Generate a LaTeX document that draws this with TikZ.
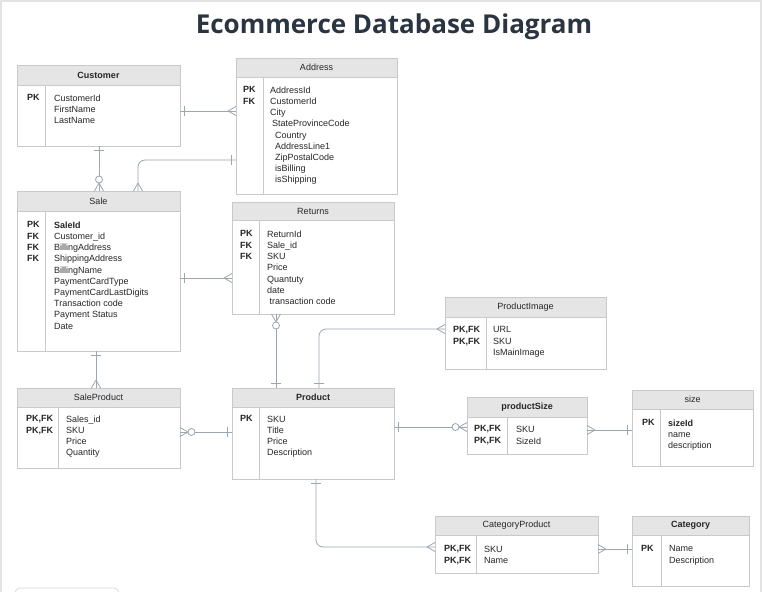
\documentclass[tikz,border=0pt]{standalone}
\usepackage{fontspec}
\setmainfont{Liberation Sans}
\newfontfamily\titlefont{Open Sans}
\usetikzlibrary{decorations.markings}
\definecolor{linec}{HTML}{9AA6B2}
\definecolor{boxc}{HTML}{C9C9C9}
\definecolor{headc}{HTML}{E5E5E5}
\definecolor{txtc}{HTML}{262626}
\definecolor{titlec}{HTML}{2B3441}
\definecolor{framec}{HTML}{E3E3E3}
\tikzset{
  ebox/.style={draw=boxc, line width=0.8pt, rectangle, inner sep=0pt, outer sep=0pt},
  htext/.style={text=txtc, inner sep=0pt},
  col/.style={font=\fontsize{9}{11.2}\selectfont, text=txtc, inner sep=0pt, align=left, anchor=north west},
  keycol/.style={col, font=\fontsize{9}{11.2}\selectfont\bfseries},
  conn/.style={draw=linec, line width=0.8pt},
  barS/.style={postaction={decorate, decoration={markings, mark=at position 4.5pt with {\draw[linec, line width=0.8pt] (0pt,-5pt) -- (0pt,5pt);}}}},
  barE/.style={postaction={decorate, decoration={markings, mark=at position -4.5pt with {\draw[linec, line width=0.8pt] (0pt,-5pt) -- (0pt,5pt);}}}},
  manyE/.style={postaction={decorate, decoration={markings, mark=at position 1 with {\draw[linec, line width=0.8pt] (-8pt,0pt) -- (0pt,4.5pt) (-8pt,0pt) -- (0pt,-4.5pt);}}}},
  manyS/.style={postaction={decorate, decoration={markings, mark=at position 0 with {\draw[linec, line width=0.8pt] (8pt,0pt) -- (0pt,4.5pt) (8pt,0pt) -- (0pt,-4.5pt);}}}},
  zeroE/.style={postaction={decorate, decoration={markings, mark=at position -11.5pt with {\draw[linec, fill=white, line width=0.8pt] (0pt,0pt) circle (3.5pt);}}}},
  zeroS/.style={postaction={decorate, decoration={markings, mark=at position 11.5pt with {\draw[linec, fill=white, line width=0.8pt] (0pt,0pt) circle (3.5pt);}}}},
}
% name, x, y, w, h, header height, divider offset, title, title font
\newcommand\entity[9]{%
  \fill[headc] (#2,#3) rectangle ++(#4,#6);
  \node[ebox, anchor=north west, minimum width=#4pt, minimum height=#5pt] (#1) at (#2,#3) {};
  \draw[boxc, line width=0.8pt] ([yshift=-#6pt]#1.north west) -- ([yshift=-#6pt]#1.north east);
  \draw[boxc, line width=0.8pt] ([xshift=#7pt,yshift=-#6pt]#1.north west) -- ([xshift=#7pt]#1.south west);
  \node[htext, font=\fontsize{9}{11}\selectfont#9] (#1-title) at ([yshift=-#6*0.5pt]#1.north) {#8};
}
\begin{document}
\begin{tikzpicture}[x=1pt, y=-1pt]
\useasboundingbox (0,0) rectangle (762,591);
\fill[white] (0,0) rectangle (762,591);
\draw[framec, line width=2pt] (1,600) -- (1,1) -- (760.5,1) -- (760.5,600);
\draw[boxc!70, line width=0.8pt, rounded corners=5pt] (15,600) |- (119,588) -- (119,600);

\node[font=\titlefont\bfseries\fontsize{26}{30}\selectfont, text=titlec, anchor=base, inner sep=0pt] (title) at (394,34) {Ecommerce Database Diagram};

% entities
\entity{customer}{17}{65}{163}{81}{20}{28}{Customer}{\bfseries}
\entity{address}{236}{58}{161}{136}{19}{27}{Address}{}
\entity{sale}{17}{191}{163}{160}{20}{28}{Sale}{}
\entity{returns}{232}{202}{162}{112}{18}{27}{Returns}{}
\entity{saleproduct}{17}{388}{163}{80}{19}{41}{SaleProduct}{}
\entity{product}{232}{388}{162}{91}{19}{27}{Product}{\bfseries}
\entity{productimage}{445}{297}{161}{72}{20}{41}{ProductImage}{}
\entity{productsize}{467}{397}{120}{57}{20}{40}{productSize}{\bfseries}
\entity{size}{632}{390}{121}{76}{19}{28}{size}{}
\entity{categoryproduct}{435}{516}{163}{57}{19}{41}{CategoryProduct}{}
\entity{category}{632}{516}{117}{70}{19}{29}{Category}{\bfseries}

% columns
\node[keycol] (customer-k) at (27,94.6) {PK};
\node[col] (customer-a) at (54,94.6) {CustomerId\\FirstName\\LastName};

\node[keycol] (address-k) at (243,86.6) {PK\\FK};
\node[col] (address-a) at (270,86.6) {AddressId\\CustomerId\\City\\\hspace{2pt}StateProvinceCode\\\hspace{5pt}Country\\\hspace{5pt}AddressLine1\\\hspace{5pt}ZipPostalCode\\\hspace{5pt}isBilling\\\hspace{5pt}isShipping};

\node[keycol] (sale-k) at (27,221.6) {PK\\FK\\FK\\FK};
\node[col] (sale-a) at (54,221.6) {\textbf{SaleId}\\Customer\_id\\BillingAddress\\ShippingAddress\\BillingName\\PaymentCardType\\PaymentCardLastDigits\\Transaction code\\Payment Status\\Date};

\node[keycol] (returns-k) at (240,230.6) {PK\\FK\\FK};
\node[col] (returns-a) at (267,230.6) {ReturnId\\Sale\_id\\SKU\\Price\\Quantuty\\date\\\hspace{2.5pt}transaction code};

\node[keycol] (saleproduct-k) at (26,415.6) {PK,FK\\PK,FK};
\node[col] (saleproduct-a) at (66,415.6) {Sales\_id\\SKU\\Price\\Quantity};

\node[keycol] (product-k) at (240,415.6) {PK};
\node[col] (product-a) at (267,415.6) {SKU\\Title\\Price\\Description};

\node[keycol] (productimage-k) at (453,326.6) {PK,FK\\PK,FK};
\node[col] (productimage-a) at (493,326.6) {URL\\SKU\\IsMainImage};

\node[keycol, font=\fontsize{9}{12}\selectfont\bfseries] (productsize-k) at (474,425.6) {PK,FK\\PK,FK};
\node[col, font=\fontsize{9}{12}\selectfont] (productsize-a) at (516,425.6) {SKU\\SizeId};

\node[keycol] (size-k) at (642,419.6) {PK};
\node[col] (size-a) at (668,419.6) {\textbf{sizeId}\\name\\description};

\node[keycol] (categoryproduct-k) at (444,545.6) {PK,FK\\PK,FK};
\node[col] (categoryproduct-a) at (484,545.6) {SKU\\Name};

\node[keycol] (category-k) at (641,545.6) {PK};
\node[col] (category-a) at (669,545.6) {Name\\Description};

% connectors
\draw[conn, barS, manyE] (customer.east |- 0,111) -- (address.west |- 0,111);
\draw[conn, barS, zeroE, manyE] (customer.south -| 99,0) -- (sale.north -| 99,0);
\draw[conn, barS, manyE, rounded corners=7pt] (address.west |- 0,160) -| (sale.north -| 138,0);
\draw[conn, barS, manyE] (sale.east |- 0,278) -- (returns.west |- 0,278);
\draw[conn, barS, manyE] (sale.south -| 96,0) -- (saleproduct.north -| 96,0);
\draw[conn, manyS, zeroS, barE] (returns.south -| 276,0) -- (product.north -| 276,0);
\draw[conn, barS, manyE, rounded corners=7pt] (product.north -| 319,0) |- (productimage.west |- 0,329);
\draw[conn, manyS, zeroS, barE] (saleproduct.east |- 0,432) -- (product.west |- 0,432);
\draw[conn, barS, zeroE, manyE] (product.east |- 0,427) -- (productsize.west |- 0,427);
\draw[conn, manyS, barE] (productsize.east |- 0,430) -- (size.west |- 0,430);
\draw[conn, barS, manyE, rounded corners=7pt] (product.south -| 316,0) |- (categoryproduct.west |- 0,547);
\draw[conn, manyS, barE] (categoryproduct.east |- 0,549) -- (category.west |- 0,549);
\end{tikzpicture}
\end{document}
